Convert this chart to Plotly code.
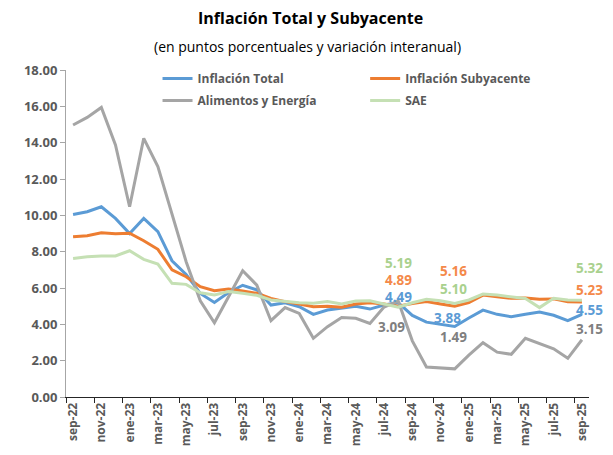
import plotly.graph_objects as go

months = [
    "sep-22", "oct-22", "nov-22", "dic-22", "ene-23", "feb-23", "mar-23", "abr-23",
    "may-23", "jun-23", "jul-23", "ago-23", "sep-23", "oct-23", "nov-23", "dic-23",
    "ene-24", "feb-24", "mar-24", "abr-24", "may-24", "jun-24", "jul-24", "ago-24",
    "sep-24", "oct-24", "nov-24", "dic-24", "ene-25", "feb-25", "mar-25", "abr-25",
    "may-25", "jun-25", "jul-25", "ago-25", "sep-25",
]

inflacion_total = [
    10.05, 10.20, 10.47, 9.83, 9.00, 9.83, 9.10, 7.50, 6.75, 5.70, 5.20, 5.75,
    6.15, 5.90, 5.06, 5.19, 4.97, 4.55, 4.79, 4.88, 5.00, 4.84, 5.06, 5.19,
    4.49, 4.12, 4.02, 3.88, 4.35, 4.78, 4.55, 4.42, 4.55, 4.68, 4.50, 4.20, 4.55,
]
inflacion_subyacente = [
    8.82, 8.88, 9.04, 8.99, 9.02, 8.60, 8.13, 7.00, 6.62, 6.07, 5.85, 5.94,
    5.83, 5.71, 5.43, 5.25, 5.12, 4.97, 5.00, 4.94, 5.12, 5.19, 5.12, 5.00,
    5.15, 5.25, 5.12, 5.00, 5.20, 5.61, 5.52, 5.43, 5.45, 5.38, 5.40, 5.25, 5.23,
]
alimentos_energia = [
    14.97, 15.39, 15.94, 13.87, 10.47, 14.24, 12.68, 10.00, 7.45, 5.30, 4.09, 5.52,
    6.95, 6.16, 4.20, 4.92, 4.60, 3.23, 3.87, 4.38, 4.33, 4.05, 4.95, 5.28,
    3.09, 1.65, 1.60, 1.55, 2.30, 2.99, 2.47, 2.35, 3.23, 2.95, 2.65, 2.13, 3.15,
]
sae = [
    7.63, 7.72, 7.76, 7.76, 8.05, 7.58, 7.32, 6.26, 6.20, 5.74, 5.61, 5.80,
    5.71, 5.60, 5.34, 5.25, 5.19, 5.16, 5.25, 5.12, 5.28, 5.30, 5.12, 4.94,
    5.19, 5.38, 5.30, 5.15, 5.34, 5.67, 5.61, 5.52, 5.42, 4.92, 5.43, 5.34, 5.32,
]

# highlighted values written on the chart
label_sep24 = {"total": 4.49, "subyacente": 4.89, "alimentos": 3.09, "sae": 5.19}
label_dic24 = {"total": 3.88, "subyacente": 5.16, "alimentos": 1.49, "sae": 5.10}
label_sep25 = {"total": 4.55, "subyacente": 5.23, "alimentos": 3.15, "sae": 5.32}

FONT = "Open Sans"
x = list(range(len(months)))

# name, values, colour, which legend column
series = [
    ("Inflación Total", inflacion_total, "#5B9BD5", "legend"),
    ("Inflación Subyacente", inflacion_subyacente, "#ED7D31", "legend2"),
    ("Alimentos y Energía", alimentos_energia, "#A5A5A5", "legend"),
    ("SAE", sae, "#C5E0B4", "legend2"),
]

fig = go.Figure()
for name, values, color, leg in series:
    fig.add_trace(go.Scatter(
        x=x, y=values, name=name, mode="lines", legend=leg, legendgroup=name,
        line=dict(color=color, width=3),
    ))

# invisible trace on a second axis so tick marks sit between categories
fig.add_trace(go.Scatter(x=[x[0]], y=[0], xaxis="x2", showlegend=False,
                         mode="markers", marker=dict(opacity=0), hoverinfo="skip"))

label_colors = {"total": "#5B9BD5", "subyacente": "#F4894A",
                "alimentos": "#7F7F7F", "sae": "#A9D18E"}
# label set, x position, y positions per series, x nudges
placements = [
    (label_sep24, 23.05, {"sae": 7.40, "subyacente": 6.44, "total": 5.50, "alimentos": 3.85},
     {"alimentos": -0.5}),
    (label_dic24, 26.9, {"subyacente": 6.92, "sae": 5.92, "total": 4.35, "alimentos": 3.30},
     {"total": -0.4}),
    (label_sep25, 36.5, {"sae": 7.08, "subyacente": 5.89, "total": 4.80, "alimentos": 3.74},
     {}),
]
for labels, lx, ys, dx in placements:
    for key, val in labels.items():
        fig.add_annotation(
            x=lx + dx.get(key, 0), y=ys[key], xref="x", yref="y",
            text="<b>%.2f</b>" % val, showarrow=False,
            font=dict(family=FONT, size=13.5, color=label_colors[key]),
        )

fig.add_annotation(
    x=0.467, y=1, xref="paper", yref="paper", yshift=52, showarrow=False,
    xanchor="center", yanchor="middle",
    text="<b>Inflación Total y Subyacente</b>",
    font=dict(family=FONT, size=16, color="#000000"),
)
fig.add_annotation(
    x=0.462, y=1, xref="paper", yref="paper", yshift=24, showarrow=False,
    xanchor="center", yanchor="middle",
    text="(en puntos porcentuales y variación interanual)",
    font=dict(family=FONT, size=14, color="#000000"),
)

legend_style = dict(
    orientation="v", yanchor="top", xanchor="left", tracegroupgap=3,
    font=dict(family=FONT, size=12, color="#595959", weight="bold"),
    bgcolor="rgba(0,0,0,0)", itemwidth=30,
)

# page body adds 8px around the figure, so the figure is 8px smaller
fig.update_layout(
    width=605, height=447,
    margin=dict(l=58, r=24, t=62, b=58),
    paper_bgcolor="white", plot_bgcolor="white",
    font=dict(family=FONT, color="#595959"),
    showlegend=True,
    legend=dict(x=0.175, y=1.018, **legend_style),
    legend2=dict(x=0.572, y=1.018, **legend_style),
    xaxis=dict(
        range=[-0.5, 36.5], tickvals=x[::2], ticktext=months[::2],
        tickangle=-90, ticks="", showgrid=False, zeroline=False,
        showline=True, linecolor="#262626", linewidth=1, automargin=False,
        tickfont=dict(family=FONT, size=12, color="#595959", weight="bold"),
    ),
    xaxis2=dict(
        range=[-0.5, 36.5], overlaying="x", side="bottom", anchor="y",
        tickvals=[v - 0.5 for v in x[::2]], showticklabels=False,
        ticks="outside", ticklen=5, tickcolor="#262626",
        showgrid=False, zeroline=False, showline=False,
    ),
    yaxis=dict(
        range=[0, 18], dtick=2, tickformat=".2f", showgrid=False, zeroline=False,
        showline=True, linecolor="#A6A6A6", linewidth=1, automargin=False,
        ticks="outside", ticklen=5, tickcolor="#A6A6A6",
        tickfont=dict(family=FONT, size=13, color="#595959", weight="bold"),
    ),
)

fig.write_html("out.html")
